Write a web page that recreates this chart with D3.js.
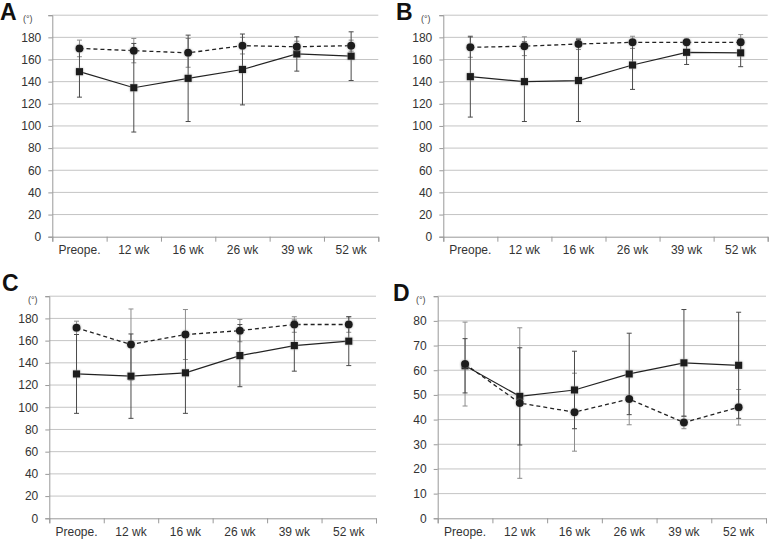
<!DOCTYPE html>
<html>
<head>
<meta charset="utf-8">
<script src="https://cdn.jsdelivr.net/npm/d3@7"></script>
<style>
  body { margin: 0; background: #fff; }
  svg { display: block; font-family: "Liberation Sans", Arial, sans-serif; }
</style>
</head>
<body>
<div id="chart"></div>
<script>
const categories = ["Preope.", "12 wk", "16 wk", "26 wk", "39 wk", "52 wk"];
const ticksAngle = [0, 20, 40, 60, 80, 100, 120, 140, 160, 180, 200];
const ticksD = [0, 10, 20, 30, 40, 50, 60, 70, 80, 90];

// panel A
const aSolid = [149, 134.5, 143, 151, 165, 163];
const aSolidSD = [23, 40, 39, 32, 15.5, 22];
const aDashed = [170, 168, 166, 172.5, 171.5, 172.5];
const aDashedSD = [7.5, 11, 13, 7.5, 5, 5];

// panel B
const bSolid = [144.5, 140, 141, 155, 166.5, 166];
const bSolidSD = [36.5, 36, 37, 22, 11, 12.5];
const bDashed = [171, 172, 174, 175.5, 175.5, 175.5];
const bDashedSD = [9, 8.5, 5, 5.5, 3, 7];

// panel C
const cSolid = [130, 128, 131, 146.5, 155.5, 159.5];
const cSolidSD = [35.5, 38, 36.5, 28, 23, 22];
const cDashed = [171.5, 156.5, 165.5, 169, 174.5, 174.5];
const cDashedSD = [6, 32, 22.5, 10, 7, 7];

// panel D
const dSolid = [61.8, 49.4, 52, 58.5, 63, 62];
const dSolidSD = [11, 19.7, 15.7, 16.5, 21.6, 21.5];
const dDashed = [62.5, 46.7, 43, 48.3, 38.8, 45];
const dDashedSD = [17, 30.5, 15.8, 10.4, 2.5, 7.2];

const panels = [
    { letter: "A", lx: 0, ly: 20, left: 52.3, right: 378.3, top: 15.2, bottom: 236.7, unitX: 23,
      ticks: ticksAngle, solid: aSolid, solidSD: aSolidSD, dashed: aDashed, dashedSD: aDashedSD },
    { letter: "B", lx: 396, ly: 20, left: 443.3, right: 767.7, top: 15.2, bottom: 236.7, unitX: 421,
      ticks: ticksAngle, solid: bSolid, solidSD: bSolidSD, dashed: bDashed, dashedSD: bDashedSD },
    { letter: "C", lx: 2, ly: 291, left: 49.3, right: 376, top: 296.2, bottom: 518.3, unitX: 28,
      ticks: ticksAngle, solid: cSolid, solidSD: cSolidSD, dashed: cDashed, dashedSD: cDashedSD },
    { letter: "D", lx: 393, ly: 301, left: 437.7, right: 766, top: 296.2, bottom: 518.3, unitX: 416,
      ticks: ticksD, solid: dSolid, solidSD: dSolidSD, dashed: dDashed, dashedSD: dDashedSD }
];

const width = 772;
const height = 539;

const svg = d3.select("#chart")
    .append("svg")
    .attr("width", width)
    .attr("height", height);

// soft glow round the markers
const glow = svg.append("defs").append("filter")
    .attr("id", "glow")
    .attr("x", "-50%").attr("y", "-50%")
    .attr("width", "200%").attr("height", "200%");
glow.append("feDropShadow")
    .attr("dx", 0).attr("dy", 0)
    .attr("stdDeviation", 1.2)
    .attr("flood-color", "#999")
    .attr("flood-opacity", 0.8);

function DrawPanel(p) {
    const g = svg.append("g");
    const yMax = p.ticks[p.ticks.length - 1];

    const x = d3.scaleBand()
        .domain(categories)
        .range([p.left, p.right]);

    const xEdge = d3.scaleLinear()
        .domain([0, categories.length])
        .range([p.left, p.right]);

    const y = d3.scaleLinear()
        .domain([0, yMax])
        .range([p.bottom, p.top]);

    // gridlines
    g.append("g")
        .selectAll("line")
        .data(p.ticks.filter(t => t > 0))
        .join("line")
        .attr("x1", p.left)
        .attr("x2", p.right)
        .attr("y1", d => y(d))
        .attr("y2", d => y(d))
        .attr("stroke", "#c4c4c4")
        .attr("stroke-width", 1);

    // y axis
    const yAxis = g.append("g")
        .attr("transform", `translate(${p.left},0)`)
        .call(d3.axisLeft(y)
            .tickValues(p.ticks)
            .tickSize(4)
            .tickPadding(7)
            .tickFormat(d => d === yMax ? "" : d));
    yAxis.select(".domain").attr("stroke", "#999");
    yAxis.selectAll(".tick line").attr("stroke", "#999");
    yAxis.selectAll("text").attr("font-size", "12px").attr("fill", "#333");

    // x axis: boundary ticks, then labels
    const xTicks = g.append("g")
        .attr("transform", `translate(0,${p.bottom})`)
        .call(d3.axisBottom(xEdge)
            .tickValues(d3.range(categories.length + 1))
            .tickSize(5)
            .tickFormat(""));
    xTicks.select(".domain").attr("stroke", "#999");
    xTicks.selectAll(".tick line").attr("stroke", "#999");

    const xLabels = g.append("g")
        .attr("transform", `translate(0,${p.bottom})`)
        .call(d3.axisBottom(x).tickSize(0).tickPadding(9));
    xLabels.select(".domain").remove();
    xLabels.selectAll("text").attr("font-size", "12px").attr("fill", "#333");

    // unit and panel letter
    g.append("text")
        .attr("x", p.unitX)
        .attr("y", p.top + 6.5)
        .attr("font-size", "9px")
        .attr("fill", "#444")
        .text("(°)");

    g.append("text")
        .attr("x", p.lx)
        .attr("y", p.ly)
        .attr("font-size", "23px")
        .attr("font-weight", "bold")
        .attr("fill", "#111")
        .text(p.letter);

    const cx = (d, i) => x(categories[i]) + x.bandwidth() / 2;

    function errorBars(values, sds, color) {
        const eb = g.append("g").attr("stroke", color).attr("stroke-width", 1);
        eb.selectAll("line.v")
            .data(values)
            .join("line")
            .attr("class", "v")
            .attr("x1", cx).attr("x2", cx)
            .attr("y1", (d, i) => y(d - sds[i]))
            .attr("y2", (d, i) => y(d + sds[i]));
        const caps = values.flatMap((d, i) => [
            { i: i, v: d - sds[i] },
            { i: i, v: d + sds[i] }
        ]);
        eb.selectAll("line.cap")
            .data(caps)
            .join("line")
            .attr("class", "cap")
            .attr("x1", d => cx(null, d.i) - 2.5)
            .attr("x2", d => cx(null, d.i) + 2.5)
            .attr("y1", d => y(d.v))
            .attr("y2", d => y(d.v));
    }

    errorBars(p.dashed, p.dashedSD, "#8c8c8c");
    errorBars(p.solid, p.solidSD, "#4a4a4a");

    const line = d3.line()
        .x(cx)
        .y(d => y(d));

    g.append("path")
        .datum(p.solid)
        .attr("d", line)
        .attr("fill", "none")
        .attr("stroke", "#222")
        .attr("stroke-width", 1.2);

    g.append("path")
        .datum(p.dashed)
        .attr("d", line)
        .attr("fill", "none")
        .attr("stroke", "#222")
        .attr("stroke-width", 1.3)
        .attr("stroke-dasharray", "4,3");

    g.append("g")
        .attr("filter", "url(#glow)")
        .selectAll("rect")
        .data(p.solid)
        .join("rect")
        .attr("x", (d, i) => cx(d, i) - 3.6)
        .attr("y", d => y(d) - 3.6)
        .attr("width", 7.2)
        .attr("height", 7.2)
        .attr("fill", "#1a1a1a");

    g.append("g")
        .attr("filter", "url(#glow)")
        .selectAll("circle")
        .data(p.dashed)
        .join("circle")
        .attr("cx", cx)
        .attr("cy", d => y(d))
        .attr("r", 4)
        .attr("fill", "#1a1a1a");
}

panels.forEach(DrawPanel);
</script>
</body>
</html>
